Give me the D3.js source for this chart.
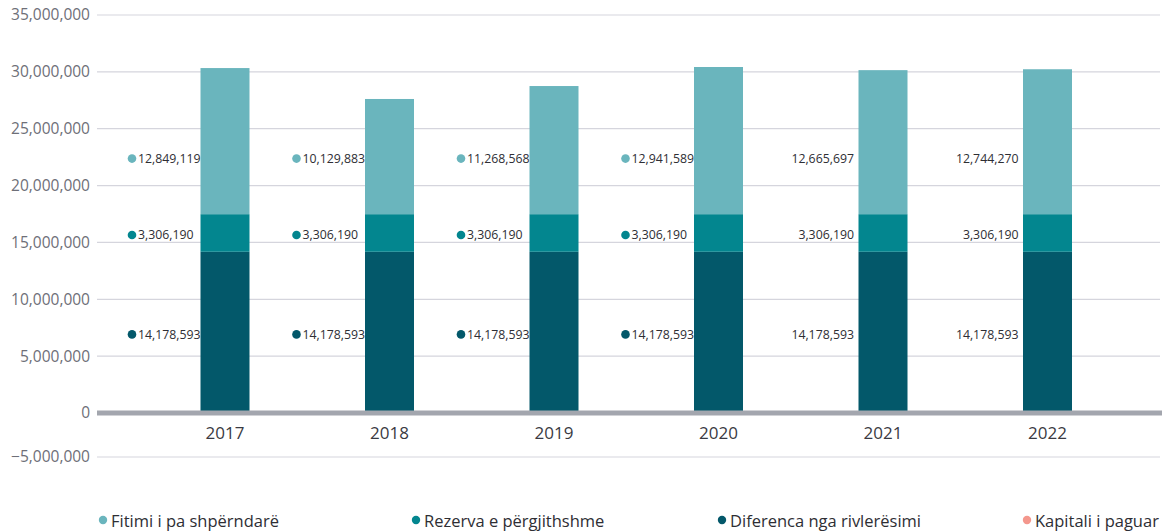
<!DOCTYPE html>
<html><head><meta charset="utf-8">
<script src="https://cdn.jsdelivr.net/npm/d3@7"></script>
<style>
html,body{margin:0;padding:0;background:#fff;}
svg{display:block;}
</style></head>
<body>
<svg id="chart" width="1176" height="531"></svg>
<script>
const years = ["2017","2018","2019","2020","2021","2022"];
const diferenca = [14178593,14178593,14178593,14178593,14178593,14178593];
const rezerva = [3306190,3306190,3306190,3306190,3306190,3306190];
const fitimi = [12849119,10129883,11268568,12941589,12665697,12744270];
const kapitali = [0,0,0,0,0,0];
const showMarker = [true,true,true,true,false,false];
const yTicks = [-5000000,0,5000000,10000000,15000000,20000000,25000000,30000000,35000000];
const seriesNames = ["Fitimi i pa shpërndarë","Rezerva e përgjithshme","Diferenca nga rivlerësimi","Kapitali i paguar"];

const colors = {
  "Diferenca nga rivlerësimi":"#03586a",
  "Rezerva e përgjithshme":"#03868f",
  "Fitimi i pa shpërndarë":"#6ab5bd",
  "Kapitali i paguar":"#f4978d"
};
const stackOrder = ["Kapitali i paguar","Diferenca nga rivlerësimi","Rezerva e përgjithshme","Fitimi i pa shpërndarë"];
const seriesData = {
  "Diferenca nga rivlerësimi":diferenca,
  "Rezerva e përgjithshme":rezerva,
  "Fitimi i pa shpërndarë":fitimi,
  "Kapitali i paguar":kapitali
};
const rows = years.map((y,i)=>{
  const r={year:y};
  stackOrder.forEach(k=>r[k]=seriesData[k][i]);
  return r;
});

const svg = d3.select("#chart");
const x = d3.scaleBand().domain(years).range([142.75,1129.75]).padding(0);
const y = d3.scaleLinear().domain([-5000000,0,35000000]).range([457,413,15]);
const barW = 49;
const fmt = d3.format(",");

// gridlines
svg.append("g").selectAll("line").data(yTicks.filter(t=>t!==0)).join("line")
  .attr("x1",97).attr("x2",1160)
  .attr("y1",d=>y(d)).attr("y2",d=>y(d))
  .attr("stroke","#d5d5dd").attr("stroke-width",1.2);

// y axis labels
const yAxis = d3.axisLeft(y).tickValues(yTicks).tickFormat(fmt).tickSize(0).tickPadding(0);
const ga = svg.append("g").attr("transform","translate(90,0)").call(yAxis);
ga.select(".domain").remove();
ga.selectAll("text").attr("font-family","'Open Sans', sans-serif").attr("font-size",15.5)
  .attr("fill","#6e6f78");

// stacked bars
const stack = d3.stack().keys(stackOrder);
const layers = stack(rows);
svg.append("g").selectAll("g").data(layers).join("g")
  .attr("fill",d=>colors[d.key])
  .selectAll("rect").data(d=>d.filter(p=>p[1]-p[0]>0)).join("rect")
  .attr("x",d=>x(d.data.year)+x.bandwidth()/2-barW/2)
  .attr("width",barW)
  .attr("y",d=>y(d[1]))
  .attr("height",d=>y(d[0])-y(d[1]));

// zero line
svg.append("line").attr("x1",97).attr("x2",1162).attr("y1",y(0)).attr("y2",y(0))
  .attr("stroke","#a3a6ae").attr("stroke-width",5);

// x axis labels
const xAxis = d3.axisBottom(x).tickSize(0).tickPadding(0);
const gx = svg.append("g").attr("transform",`translate(0,${y(0)+20})`).call(xAxis);
gx.select(".domain").remove();
gx.selectAll("text").attr("font-family","'Open Sans', sans-serif").attr("font-size",17)
  .attr("fill","#3a3a42").attr("dy","0.35em");

// data labels
const labelSeries = ["Fitimi i pa shpërndarë","Rezerva e përgjithshme","Diferenca nga rivlerësimi"];
const lab = svg.append("g").attr("font-family","'Open Sans', sans-serif").attr("font-size",12.3).attr("fill","#2e2e34");
labelSeries.forEach(key=>{
  const layer = layers.find(l=>l.key===key);
  const base = d3.min(layer,p=>p[0]);
  const mid = base + d3.min(seriesData[key])/2;
  layer.forEach((p,i)=>{
    const cx = x(p.data.year)+x.bandwidth()/2;
    const ly = y(mid)+2;
    if(showMarker[i]){
      lab.append("circle").attr("cx",cx-93).attr("cy",ly).attr("r",4.3).attr("fill",colors[key]);
      lab.append("text").attr("x",cx-87).attr("y",ly).attr("dy","0.35em").text(fmt(seriesData[key][i]));
    } else {
      lab.append("text").attr("x",cx-29).attr("y",ly).attr("dy","0.35em").attr("text-anchor","end").text(fmt(seriesData[key][i]));
    }
  });
});

// legend
const legendX = [103,416,722,1027];
const lg = svg.append("g").attr("font-family","'Open Sans', sans-serif").attr("font-size",16.5).attr("fill","#2e2e34");
seriesNames.forEach((n,i)=>{
  lg.append("circle").attr("cx",legendX[i]).attr("cy",520).attr("r",4.2).attr("fill",colors[n]);
  lg.append("text").attr("x",legendX[i]+8).attr("y",521).attr("dy","0.35em").text(n);
});
</script>
</body></html>
